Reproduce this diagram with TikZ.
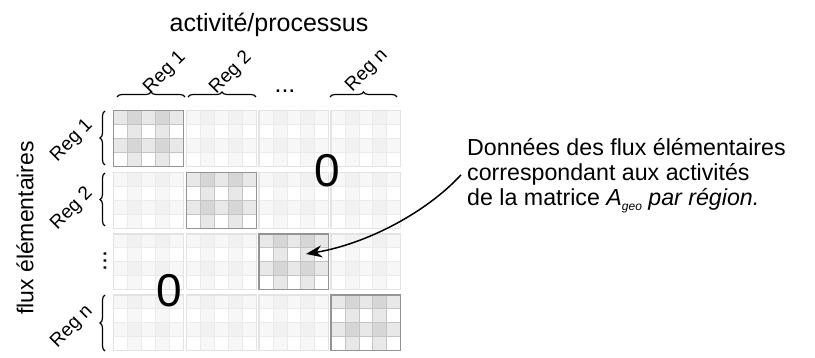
\documentclass[tikz,border=0pt]{standalone}
\usepackage{fontspec}
\setmainfont{Liberation Sans}
\usetikzlibrary{decorations.pathreplacing,arrows.meta}

\begin{document}
\begin{tikzpicture}
[
x=1pt, y=-1pt,
title/.style={font=\fontsize{25}{28}\selectfont, inner sep=0},
ylab/.style={font=\fontsize{23}{26}\selectfont, rotate=90, inner sep=0},
reg/.style={font=\fontsize{19}{21}\selectfont, rotate=45, inner sep=0},
zero/.style={font=\fontsize{46}{50}\selectfont, inner sep=0},
noteline/.style={font=\fontsize{23.2}{26}\selectfont, anchor=base west, inner sep=0},
brace/.style={decorate, decoration={brace, amplitude=5pt}, line width=1.2pt},
diag0/.style={fill=white, draw=black!23},
diag1/.style={fill=black!9, draw=black!23},
diag2/.style={fill=black!16, draw=black!23},
diagframe/.style={draw=black!42, line width=1.1pt},
off0/.style={fill=white, draw=black!8},
off1/.style={fill=black!3, draw=black!8},
off2/.style={fill=black!5.5, draw=black!8},
offframe/.style={draw=black!11, line width=1.1pt}
]
\useasboundingbox (0,0) rectangle (815,358);

%Blocks
\foreach \br/\by in {0/110.5,1/172.5,2/234,3/295}{
  \foreach \bc/\bx in {0/113.3,1/186.5,2/259,3/331}{
    \ifnum\br=\bc \def\kind{diag}\else\def\kind{off}\fi
    \foreach \cr in {0,...,3}{
      \foreach \cc in {0,...,4}{
        \pgfmathtruncatemacro{\lvl}{1-mod(\cr,2)+mod(\cc,2)}
        \filldraw[\kind\lvl, line width=0.8pt] (\bx+13.96*\cc, \by+13.9*\cr) rectangle ++(13.96,13.9);
      }
    }
    \draw[\kind frame] (\bx,\by) rectangle ++(69.8,55.6);
  }
}

%Nodes
\node[title]    (act)   at (269,25)     {activité/processus};
\node[ylab]     (flux)  at (25,228)     {flux élémentaires};
\node[reg]      (top1)  at (165,73)     {Reg 1};
\node[reg]      (top2)  at (231,73)     {Reg 2};
\node[reg]      (topn)  at (367,71)     {Reg n};
\node[title]    (tdots) at (285,91)     {...};
\node[reg]      (left1) at (72,141)     {Reg 1};
\node[reg]      (left2) at (72,209)     {Reg 2};
\node[reg]      (leftn) at (72,327)     {Reg n};
\node[title, rotate=90] (ldots) at (105,261) {...};
\node[zero]     (z1)    at (327,171)    {0};
\node[zero]     (z2)    at (169,290.5)  {0};
\node[noteline] (note1) at (467,156)    {Données des flux élémentaires};
\node[noteline] (note2) at (467,181)    {correspondant aux activités};
\node[noteline] (note3) at (467,206)    {de la matrice \textit{A}\raisebox{-5pt}{\fontsize{12}{13}\selectfont\itshape geo} \textit{par région.}};
\coordinate     (target) at (306,254);

%Lines
\draw[brace] (117,97) -- (185,97);
\draw[brace] (188,97) -- (256,97);
\draw[brace] (330,97) -- (397,97);
\draw[brace] (105,165) -- (105,111);
\draw[brace] (105,226) -- (105,173);
\draw[brace] (105,351) -- (105,295);
\draw[line width=1.5pt, -{Stealth[length=16pt,width=12pt]}] ([xshift=-6pt]note2.west) .. controls +(-35,38) and +(60,-10) .. (target);

\end{tikzpicture}
\end{document}
